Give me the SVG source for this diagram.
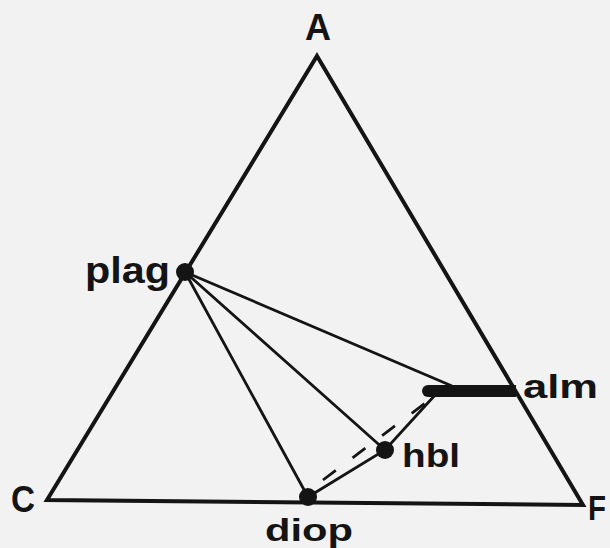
<svg xmlns="http://www.w3.org/2000/svg" width="610" height="548" viewBox="0 0 610 548">
<style>
.lbl{font-family:"Liberation Sans",Arial,sans-serif;font-weight:bold;fill:#141414}
.edge{stroke:#141414;stroke-width:4;fill:none;stroke-linejoin:miter}
.tie{stroke:#141414;stroke-width:2.8;fill:none}
.dot{fill:#141414}
</style>
<rect width="610" height="548" fill="#f2f2f2"/>
<g id="connectors">
<polygon class="edge" points="317,56 583,505 47,500"/>
<line class="tie" x1="185" y1="272" x2="452" y2="386"/>
<line class="tie" x1="185" y1="272" x2="385" y2="450"/>
<line class="tie" x1="185" y1="272" x2="308" y2="497"/>
<polyline class="tie" points="308,497 385,450 436,394"/>
<line class="tie" x1="323" y1="480" x2="432" y2="398" stroke-dasharray="16 21"/>
<path d="M428,385 L516,385 L516,397 L428,397 A6,6 0 0 1 428,385 Z" fill="#141414"/>
</g>
<g id="A"><text class="lbl" x="318" y="40" font-size="36" text-anchor="middle">A</text></g>
<g id="C"><text class="lbl" x="11" y="512" font-size="36" textLength="24" lengthAdjust="spacingAndGlyphs">C</text></g>
<g id="F"><text class="lbl" x="588" y="520" font-size="35" textLength="18" lengthAdjust="spacingAndGlyphs">F</text></g>
<g id="plag"><circle class="dot" cx="185" cy="272" r="9"/><text class="lbl" x="85" y="283" font-size="37" textLength="85" lengthAdjust="spacingAndGlyphs">plag</text></g>
<g id="alm"><text class="lbl" x="523" y="398" font-size="34" textLength="75" lengthAdjust="spacingAndGlyphs">alm</text></g>
<g id="hbl"><circle class="dot" cx="385" cy="450" r="9"/><text class="lbl" x="402" y="467" font-size="33" textLength="58" lengthAdjust="spacingAndGlyphs">hbl</text></g>
<g id="diop"><circle class="dot" cx="308" cy="497" r="9"/><text class="lbl" x="265" y="541" font-size="31" textLength="88" lengthAdjust="spacingAndGlyphs">diop</text></g>
</svg>
